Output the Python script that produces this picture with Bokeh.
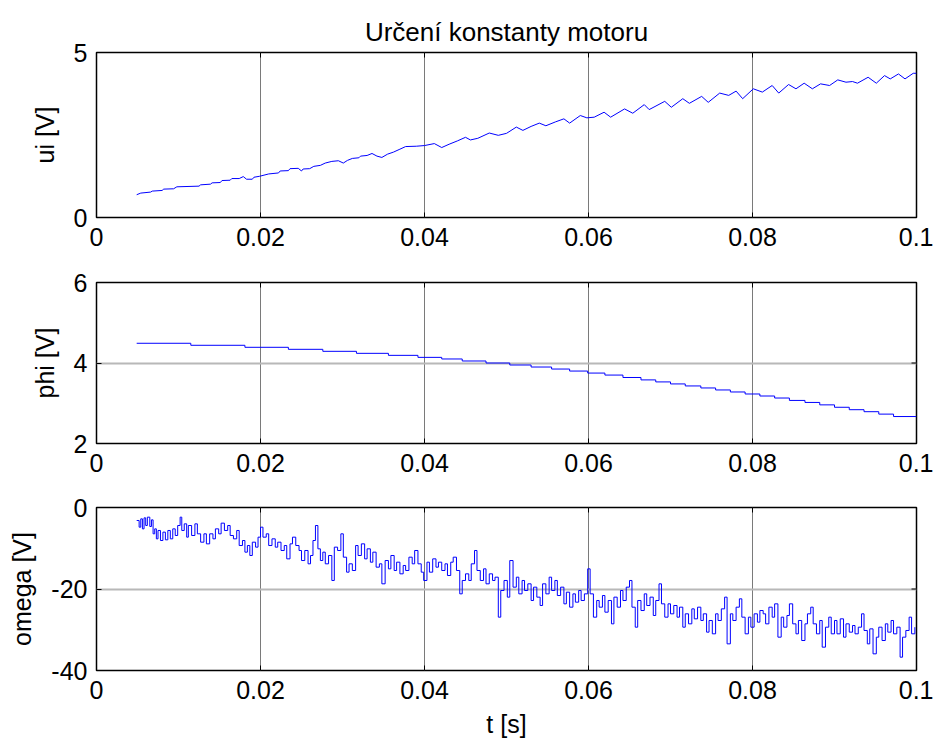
import math
from bokeh.plotting import figure
from bokeh.layouts import column
from bokeh.models import FixedTicker, Range1d
from bokeh.embed import file_html
from bokeh.resources import INLINE

# ---------------- data ----------------
title_text = "Určení konstanty motoru"
x_ticks = [0, 0.02, 0.04, 0.06, 0.08, 0.1]
x_tick_labels = ["0", "0.02", "0.04", "0.06", "0.08", "0.1"]
x_label = "t [s]"

ui_label = "ui [V]"
ui_ticks = [0, 5]
ui_tick_labels = ["0", "5"]
ui_t = [0.0049, 0.0054, 0.0066, 0.0068, 0.0080, 0.0082, 0.0094, 0.0098, 0.0125, 0.0127,
        0.0139, 0.0141, 0.0151, 0.0153, 0.0163, 0.0165, 0.0174, 0.0179, 0.0183, 0.0190,
        0.0192, 0.0199, 0.0210, 0.0222, 0.0224, 0.0234, 0.0236, 0.0246, 0.0250, 0.0252,
        0.0260, 0.0265, 0.0273, 0.0279, 0.0287, 0.0295, 0.0301, 0.0306, 0.0312, 0.0320,
        0.0322, 0.0330, 0.0336, 0.0342, 0.0348, 0.0355, 0.0362, 0.0370, 0.0377, 0.0390,
        0.0400, 0.0412, 0.0421, 0.0430, 0.0440, 0.0450, 0.0456, 0.0465, 0.0479, 0.0490,
        0.0500, 0.0512, 0.0520, 0.0530, 0.0540, 0.0548, 0.0560, 0.0570, 0.0577, 0.0590,
        0.0598, 0.0607, 0.0619, 0.0627, 0.0644, 0.0654, 0.0668, 0.0674, 0.0693, 0.0701,
        0.0715, 0.0723, 0.0738, 0.0746, 0.0760, 0.0771, 0.0780, 0.0788, 0.0801, 0.0812,
        0.0824, 0.0832, 0.0844, 0.0853, 0.0863, 0.0873, 0.0883, 0.0894, 0.0904, 0.0914,
        0.0922, 0.0928, 0.0941, 0.0951, 0.0961, 0.0968, 0.0978, 0.0986, 0.0996, 0.1000]
ui_v = [0.69, 0.74, 0.77, 0.80, 0.82, 0.86, 0.87, 0.93, 0.95, 0.99,
        1.01, 1.05, 1.06, 1.12, 1.13, 1.18, 1.18, 1.24, 1.16, 1.16,
        1.22, 1.25, 1.32, 1.35, 1.41, 1.42, 1.48, 1.49, 1.41, 1.47,
        1.48, 1.55, 1.58, 1.65, 1.70, 1.72, 1.65, 1.73, 1.79, 1.81,
        1.86, 1.88, 1.94, 1.86, 1.82, 1.92, 1.98, 2.07, 2.15, 2.16,
        2.18, 2.24, 2.12, 2.22, 2.32, 2.43, 2.35, 2.40, 2.56, 2.49,
        2.55, 2.74, 2.64, 2.76, 2.86, 2.78, 2.90, 2.99, 2.86, 3.09,
        3.02, 3.04, 3.19, 3.04, 3.29, 3.16, 3.42, 3.27, 3.52, 3.34,
        3.60, 3.46, 3.67, 3.49, 3.77, 3.70, 3.83, 3.60, 3.90, 3.80,
        4.00, 3.77, 4.03, 3.90, 4.07, 3.90, 4.05, 4.00, 4.17, 4.10,
        4.12, 4.07, 4.25, 4.07, 4.30, 4.20, 4.35, 4.20, 4.37, 4.37]

phi_label = "phi [V]"
phi_ticks = [2, 4, 6]
phi_tick_labels = ["2", "4", "6"]
phi_t = [0.0049, 0.0115, 0.0181, 0.0234, 0.0276, 0.0317, 0.0356, 0.0392, 0.0421, 0.0446,
         0.0475, 0.0504, 0.0530, 0.0555, 0.0577, 0.0599, 0.0620, 0.0642, 0.0664, 0.0682,
         0.0700, 0.0718, 0.0737, 0.0755, 0.0773, 0.0791, 0.0809, 0.0827, 0.0845, 0.0864,
         0.0882, 0.0900, 0.0918, 0.0936, 0.0954, 0.0972, 0.1000]
phi_v = [4.49, 4.44, 4.39, 4.34, 4.29, 4.24, 4.19, 4.14, 4.10, 4.05,
         4.00, 3.95, 3.90, 3.85, 3.80, 3.75, 3.70, 3.64, 3.58, 3.53,
         3.48, 3.43, 3.38, 3.33, 3.28, 3.23, 3.18, 3.13, 3.07, 3.02,
         2.96, 2.90, 2.84, 2.79, 2.73, 2.67, 2.67]

omega_label = "omega [V]"
omega_ticks = [-40, -20, 0]
omega_tick_labels = ["-40", "-20", "0"]
omega_t = [0.0049, 0.0052, 0.0054, 0.0056, 0.0058, 0.0060, 0.0062, 0.0065, 0.0067, 0.0069,
           0.0071, 0.0073, 0.0075, 0.0078, 0.0081, 0.0084, 0.0087, 0.0090, 0.0093, 0.0096,
           0.0099, 0.0102, 0.0104, 0.0107, 0.0110, 0.0112, 0.0116, 0.0120, 0.0123, 0.0127,
           0.0131, 0.0134, 0.0138, 0.0142, 0.0145, 0.0149, 0.0152, 0.0156, 0.0160, 0.0163,
           0.0167, 0.0171, 0.0174, 0.0178, 0.0181, 0.0184, 0.0187, 0.0190, 0.0194, 0.0197,
           0.0200, 0.0203, 0.0207, 0.0210, 0.0214, 0.0218, 0.0221, 0.0225, 0.0229, 0.0232,
           0.0236, 0.0239, 0.0243, 0.0247, 0.0250, 0.0254, 0.0258, 0.0261, 0.0264, 0.0267,
           0.0270, 0.0273, 0.0276, 0.0279, 0.0283, 0.0287, 0.0290, 0.0294, 0.0298, 0.0301,
           0.0305, 0.0308, 0.0312, 0.0316, 0.0319, 0.0323, 0.0327, 0.0330, 0.0334, 0.0337,
           0.0341, 0.0345, 0.0348, 0.0352, 0.0356, 0.0359, 0.0363, 0.0366, 0.0370, 0.0374,
           0.0377, 0.0381, 0.0385, 0.0388, 0.0392, 0.0396, 0.0399, 0.0403, 0.0406, 0.0410,
           0.0414, 0.0417, 0.0421, 0.0425, 0.0428, 0.0432, 0.0435, 0.0439, 0.0443, 0.0446,
           0.0450, 0.0454, 0.0457, 0.0461, 0.0464, 0.0468, 0.0472, 0.0475, 0.0479, 0.0483,
           0.0486, 0.0490, 0.0493, 0.0497, 0.0501, 0.0504, 0.0508, 0.0512, 0.0515, 0.0519,
           0.0522, 0.0526, 0.0530, 0.0533, 0.0537, 0.0541, 0.0544, 0.0548, 0.0552, 0.0555,
           0.0559, 0.0562, 0.0566, 0.0570, 0.0573, 0.0577, 0.0581, 0.0584, 0.0588, 0.0591,
           0.0595, 0.0599, 0.0602, 0.0606, 0.0610, 0.0613, 0.0617, 0.0620, 0.0624, 0.0628,
           0.0631, 0.0635, 0.0639, 0.0642, 0.0646, 0.0650, 0.0653, 0.0657, 0.0660, 0.0664,
           0.0668, 0.0671, 0.0675, 0.0679, 0.0682, 0.0686, 0.0689, 0.0693, 0.0697, 0.0700,
           0.0704, 0.0708, 0.0711, 0.0715, 0.0718, 0.0722, 0.0726, 0.0729, 0.0733, 0.0737,
           0.0740, 0.0744, 0.0747, 0.0751, 0.0755, 0.0758, 0.0762, 0.0766, 0.0769, 0.0773,
           0.0776, 0.0780, 0.0784, 0.0787, 0.0791, 0.0795, 0.0798, 0.0802, 0.0806, 0.0809,
           0.0813, 0.0816, 0.0820, 0.0824, 0.0827, 0.0831, 0.0835, 0.0838, 0.0842, 0.0845,
           0.0849, 0.0853, 0.0856, 0.0860, 0.0864, 0.0867, 0.0871, 0.0874, 0.0878, 0.0882,
           0.0885, 0.0889, 0.0893, 0.0896, 0.0900, 0.0903, 0.0907, 0.0911, 0.0914, 0.0918,
           0.0922, 0.0925, 0.0929, 0.0933, 0.0936, 0.0940, 0.0943, 0.0947, 0.0951, 0.0954,
           0.0958, 0.0962, 0.0965, 0.0969, 0.0972, 0.0976, 0.0980, 0.0983, 0.0987, 0.0991,
           0.0994, 0.0998]
omega_v = [-3.19, -4.83, -2.78, -5.24, -2.54, -4.42, -2.37, -4.66, -3.03, -6.46,
           -5.24, -7.69, -5.64, -8.10, -6.05, -7.93, -5.64, -7.69, -5.24, -6.87,
           -4.42, -2.37, -5.64, -4.01, -7.28, -4.42, -6.87, -4.01, -6.46, -8.51,
           -6.46, -8.92, -6.46, -7.69, -5.24, -6.46, -3.84, -5.64, -4.42, -6.87,
           -7.69, -5.64, -9.33, -8.10, -10.96, -9.33, -11.78, -8.51, -9.73, -7.28,
           -4.83, -7.28, -6.46, -9.33, -7.69, -9.73, -8.51, -10.55, -9.33, -12.60,
           -8.92, -7.28, -9.33, -10.55, -13.01, -10.55, -13.82, -11.78, -8.10, -4.42,
           -10.14, -13.01, -10.96, -13.82, -11.78, -17.91, -9.73, -10.55, -6.46, -12.19,
           -15.87, -13.82, -15.46, -9.33, -11.78, -8.92, -12.60, -10.14, -13.42, -10.96,
           -14.64, -13.82, -18.73, -13.01, -15.05, -11.78, -15.46, -13.42, -16.28, -14.23,
           -15.46, -12.19, -13.82, -10.55, -13.82, -15.87, -17.91, -13.42, -15.87, -12.60,
           -14.64, -13.42, -15.46, -13.82, -16.69, -13.42, -12.19, -15.46, -21.19, -17.91,
           -16.28, -17.91, -13.82, -10.55, -15.46, -17.91, -15.05, -18.73, -16.28, -17.91,
           -17.10, -26.91, -20.37, -17.91, -22.00, -13.01, -19.55, -17.10, -21.19, -17.91,
           -20.37, -18.73, -22.82, -19.55, -22.00, -24.05, -18.73, -21.19, -17.10, -20.37,
           -17.91, -21.60, -19.55, -23.64, -20.78, -24.46, -21.19, -23.23, -20.37, -22.82,
           -21.19, -15.05, -21.19, -26.91, -22.82, -24.46, -21.60, -25.69, -22.82, -28.55,
           -22.00, -24.46, -20.37, -22.82, -19.55, -17.91, -24.46, -29.37, -22.82, -25.28,
           -21.19, -24.05, -22.00, -26.50, -22.82, -18.73, -23.64, -26.91, -23.64, -26.09,
           -24.05, -26.91, -24.46, -29.37, -26.09, -28.55, -24.87, -27.32, -24.46, -27.73,
           -26.09, -30.59, -27.73, -31.00, -26.09, -27.73, -24.87, -22.00, -33.46, -26.09,
           -27.73, -24.46, -22.41, -26.91, -31.00, -26.91, -29.37, -26.09, -28.14, -25.28,
           -26.09, -28.55, -24.46, -26.91, -23.64, -31.82, -26.91, -29.37, -26.50, -23.64,
           -28.55, -31.00, -27.73, -32.64, -28.55, -26.09, -24.46, -28.55, -31.00, -27.73,
           -34.27, -29.37, -26.91, -31.00, -27.73, -31.00, -27.32, -31.82, -28.55, -30.59,
           -28.96, -31.00, -29.37, -26.09, -30.18, -33.46, -29.78, -35.91, -31.82, -29.37,
           -32.64, -28.55, -30.59, -27.73, -31.00, -29.37, -36.73, -31.82, -30.18, -26.91,
           -31.00, -29.37]

# ---------------- styling ----------------
FONT = "Liberation Sans"
FS = "25px"
TITLE_FS = "26px"
LINE_COLOR = "#0000ff"


def make_fig(height, border_top, border_bottom, yrange, yticks, ytick_labels, ylabel,
             xlabel=None, title=None):
    p = figure(width=933, height=height,
               x_range=Range1d(x_ticks[0], x_ticks[-1]), y_range=Range1d(*yrange),
               output_backend="svg", toolbar_location=None,
               min_border_left=96, min_border_right=17,
               min_border_top=border_top, min_border_bottom=border_bottom,
               background_fill_color="white", border_fill_color="white")
    if title:
        p.title.text = title
        p.title.align = "center"
        p.title.vertical_align = "middle"
        p.title.text_font = FONT
        p.title.text_font_size = TITLE_FS
        p.title.text_font_style = "normal"
        p.title.text_color = "black"
    p.outline_line_color = "black"
    p.outline_line_width = 1.5
    p.outline_line_alpha = 1.0

    xt = FixedTicker(ticks=x_ticks)
    yt = FixedTicker(ticks=yticks)
    p.xaxis.ticker = xt
    p.yaxis.ticker = yt
    p.xaxis.major_label_overrides = {t: l for t, l in zip(x_ticks, x_tick_labels)}
    p.yaxis.major_label_overrides = {t: l for t, l in zip(yticks, ytick_labels)}

    for ax in p.axis:
        ax.axis_line_color = None
        ax.major_tick_in = 5
        ax.major_tick_out = 0
        ax.major_tick_line_color = "black"
        ax.major_tick_line_width = 1
        ax.minor_tick_line_color = None
        ax.major_label_text_font = FONT
        ax.major_label_text_font_size = FS
        ax.major_label_text_color = "black"
        ax.axis_label_text_font = FONT
        ax.axis_label_text_font_size = FS
        ax.axis_label_text_font_style = "normal"
        ax.axis_label_text_color = "black"

    p.below[0].major_label_standoff = 10
    p.left[0].major_label_standoff = 9
    p.left[0].axis_label = ylabel
    p.left[0].axis_label_standoff = 12
    if xlabel:
        p.below[0].axis_label = xlabel
        p.below[0].axis_label_standoff = 8

    p.xgrid.ticker = xt
    p.ygrid.ticker = yt
    p.xgrid.grid_line_color = "#7a7a7a"
    p.xgrid.grid_line_width = 1
    p.ygrid.grid_line_color = "#b8b8b8"
    p.ygrid.grid_line_width = 2

    # inward tick marks on the top and right edges (MATLAB box style)
    p.scatter(x_ticks, [yrange[1]] * len(x_ticks), marker="dash", size=10,
              angle=math.pi / 2, line_color="black", line_width=1)
    p.scatter([x_ticks[-1]] * len(yticks), yticks, marker="dash", size=10,
              line_color="black", line_width=1)
    return p


p1 = make_fig(260, 52, 43, (0, 5), ui_ticks, ui_tick_labels, ui_label, title=title_text)
p1.line(ui_t, ui_v, line_color=LINE_COLOR, line_width=1)

p2 = make_fig(225, 22, 42, (2, 6), phi_ticks, phi_tick_labels, phi_label)
p2.step(phi_t, phi_v, mode="after", line_color=LINE_COLOR, line_width=1)

p3 = make_fig(255, 22, 70, (-40, 0), omega_ticks, omega_tick_labels, omega_label, xlabel=x_label)
p3.step(omega_t, omega_v, mode="after", line_color=LINE_COLOR, line_width=1)

layout = column(p1, p2, p3, spacing=0)

with open("out.html", "w") as f:
    f.write(file_html(layout, INLINE))
